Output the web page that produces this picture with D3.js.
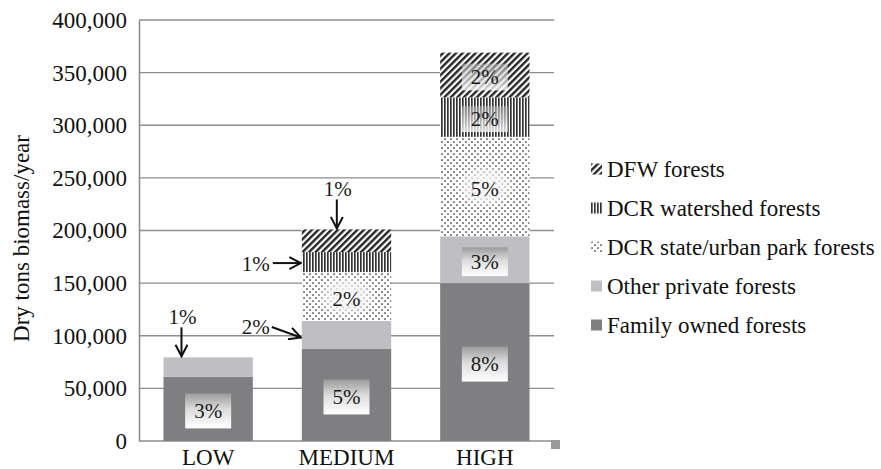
<!DOCTYPE html>
<html>

<head>
    <meta charset="utf-8">
    <style>
        body {
            margin: 0;
            background: #fff;
        }

        svg {
            display: block;
        }

        svg text {
            font-family: "Liberation Serif", serif !important;
        }

        .grid line {
            stroke: #8e8e90;
            stroke-width: 1.4;
        }

        .y .domain {
            stroke: #8e8e90;
            stroke-width: 1.6;
        }

        .y .tick text,
        .x .tick text {
            font-size: 23px;
            fill: #111;
        }

        .legend text {
            font-size: 23px;
            fill: #111;
        }

        .pct {
            font-size: 21px;
            fill: #1a1a1a;
        }

        .axis-title {
            font-size: 23px;
            fill: #111;
        }
    </style>
    <title>Dry tons biomass per year by ownership</title>
</head>

<body>
    <svg width="881" height="469" font-family="Liberation Serif, serif"></svg>

    <script src="https://cdn.jsdelivr.net/npm/d3@7"></script>
    <script>
        // categories and series
        let categories = ["LOW", "MEDIUM", "HIGH"]
        let seriesKeys = ["family", "other", "state", "watershed", "dfw"]
        let seriesNames = [
            "Family owned forests",
            "Other private forests",
            "DCR state/urban park forests",
            "DCR watershed forests",
            "DFW forests"]

        // values (dry tons/year)
        let familyValues = [61000, 87500, 150000]
        let otherValues = [18500, 26500, 44500]
        let stateValues = [0, 46500, 94500]
        let watershedValues = [0, 19000, 37500]
        let dfwValues = [0, 21500, 42500]

        // percent labels
        let familyPct = ["3%", "5%", "8%"]
        let otherPct = ["1%", "2%", "3%"]
        let statePct = ["", "2%", "5%"]
        let watershedPct = ["", "1%", "2%"]
        let dfwPct = ["", "1%", "2%"]

        let yTicks = [0, 50000, 100000, 150000, 200000, 250000, 300000, 350000, 400000]

        let rows = categories.map((c, i) => ({
            cat: c,
            family: familyValues[i],
            other: otherValues[i],
            state: stateValues[i],
            watershed: watershedValues[i],
            dfw: dfwValues[i]
        }))
        let pctLabels = [familyPct, otherPct, statePct, watershedPct, dfwPct]

        // small labels that sit outside the bar with an arrow
        let callouts = [
            { cat: "LOW", key: "other", kind: "down", dx: 18 },
            { cat: "MEDIUM", key: "other", kind: "diag" },
            { cat: "MEDIUM", key: "watershed", kind: "right" },
            { cat: "MEDIUM", key: "dfw", kind: "down", dx: 35 }
        ]

        let plot = { left: 139, right: 554, top: 20, bottom: 441 }

        let svg = d3.select("svg")
        let defs = svg.append("defs")

        // fills
        let dfwPat = defs.append("pattern")
            .attr("id", "pat-dfw")
            .attr("patternUnits", "userSpaceOnUse")
            .attr("width", 4.6).attr("height", 4.6)
            .attr("patternTransform", "rotate(45)")
        dfwPat.append("rect").attr("width", 4.6).attr("height", 4.6).attr("fill", "#fff")
        dfwPat.append("rect").attr("width", 2.4).attr("height", 4.6).attr("fill", "#262626")

        let wsPat = defs.append("pattern")
            .attr("id", "pat-ws")
            .attr("patternUnits", "userSpaceOnUse")
            .attr("width", 3).attr("height", 3)
        wsPat.append("rect").attr("width", 3).attr("height", 3).attr("fill", "#fff")
        wsPat.append("rect").attr("width", 1.7).attr("height", 3).attr("fill", "#333")

        let dotPat = defs.append("pattern")
            .attr("id", "pat-dot")
            .attr("patternUnits", "userSpaceOnUse")
            .attr("width", 6).attr("height", 6)
        dotPat.append("rect").attr("width", 6).attr("height", 6).attr("fill", "#fff")
        dotPat.append("circle").attr("cx", 1).attr("cy", 1).attr("r", 0.85).attr("fill", "#222")
        dotPat.append("circle").attr("cx", 4).attr("cy", 4).attr("r", 0.85).attr("fill", "#222")

        let boxGrad = defs.append("linearGradient")
            .attr("id", "box-grad")
            .attr("x1", 0).attr("y1", 0).attr("x2", 0).attr("y2", 1)
        boxGrad.append("stop").attr("offset", 0).attr("stop-color", "#9a9a9a")
        boxGrad.append("stop").attr("offset", 0.45).attr("stop-color", "#dcdcdc")
        boxGrad.append("stop").attr("offset", 1).attr("stop-color", "#ffffff")

        let fadeGrad = defs.append("linearGradient")
            .attr("id", "box-fade")
            .attr("x1", 0).attr("y1", 0).attr("x2", 0).attr("y2", 1)
        fadeGrad.append("stop").attr("offset", 0).attr("stop-color", "#bdbdbd").attr("stop-opacity", 0.55)
        fadeGrad.append("stop").attr("offset", 1).attr("stop-color", "#ffffff").attr("stop-opacity", 0.8)

        let glow = defs.append("radialGradient").attr("id", "glow")
        glow.append("stop").attr("offset", 0).attr("stop-color", "#fff").attr("stop-opacity", 0.95)
        glow.append("stop").attr("offset", 0.6).attr("stop-color", "#f2f2f2").attr("stop-opacity", 0.7)
        glow.append("stop").attr("offset", 1).attr("stop-color", "#fff").attr("stop-opacity", 0)

        defs.append("marker")
            .attr("id", "arrow")
            .attr("viewBox", "0 0 14 14")
            .attr("refX", 12.5).attr("refY", 7)
            .attr("markerWidth", 14).attr("markerHeight", 14)
            .attr("markerUnits", "userSpaceOnUse")
            .attr("orient", "auto")
            .append("path")
            .attr("d", "M1,1 L12.5,7 L1,13")
            .attr("fill", "none")
            .attr("stroke", "#111")
            .attr("stroke-width", 2)

        let fills = {
            family: "#7f7f82",
            other: "#bfbfc3",
            state: "url(#pat-dot)",
            watershed: "url(#pat-ws)",
            dfw: "url(#pat-dfw)"
        }

        let x = d3.scaleBand()
            .domain(categories)
            .range([plot.left, plot.right])
            .paddingInner(0.354)
            .paddingOuter(0.177)

        let y = d3.scaleLinear()
            .domain([0, 400000])
            .range([plot.bottom, plot.top])

        // gridlines
        svg.append("g")
            .attr("class", "grid")
            .selectAll("line")
            .data(yTicks)
            .join("line")
            .attr("x1", plot.left)
            .attr("x2", plot.right)
            .attr("y1", d => y(d))
            .attr("y2", d => y(d))

        let series = d3.stack().keys(seriesKeys)(rows)

        svg.append("g")
            .selectAll("g")
            .data(series)
            .join("g")
            .attr("fill", d => fills[d.key])
            .selectAll("rect")
            .data(d => d.filter(v => v[1] > v[0]))
            .join("rect")
            .attr("x", d => x(d.data.cat))
            .attr("y", d => y(d[1]))
            .attr("width", x.bandwidth())
            .attr("height", d => y(d[0]) - y(d[1]))

        // y axis
        svg.append("g")
            .attr("class", "y axis")
            .attr("transform", `translate(${plot.left},0)`)
            .call(d3.axisLeft(y)
                .tickValues(yTicks)
                .tickSize(0)
                .tickPadding(12)
                .tickFormat(d3.format(",")))
            .attr("font-family", null)

        svg.append("g")
            .attr("class", "x axis")
            .attr("transform", `translate(0,${plot.bottom})`)
            .call(d3.axisBottom(x).tickSize(0).tickPadding(8))
            .call(g => g.select(".domain").remove())
            .attr("font-family", null)

        svg.append("text")
            .attr("class", "axis-title")
            .attr("transform", `translate(29,${(plot.top + plot.bottom) / 2 + 8}) rotate(-90)`)
            .attr("text-anchor", "middle")
            .text("Dry tons biomass/year")

        // percent labels
        let labels = svg.append("g")
        series.forEach((s, si) => {
            s.forEach((d, ci) => {
                let pct = pctLabels[si][ci]
                if (!pct) return
                let key = s.key
                let cat = d.data.cat
                let top = y(d[1])
                let bot = y(d[0])
                let left = x(cat)
                let cx = left + x.bandwidth() / 2
                let c = callouts.find(o => o.cat == cat && o.key == key)

                if (c && c.kind == "down") {
                    let ax = left + c.dx
                    labels.append("text").attr("class", "pct")
                        .attr("x", ax + 1).attr("y", top - 40)
                        .attr("text-anchor", "middle").attr("dominant-baseline", "central")
                        .text(pct)
                    labels.append("line")
                        .attr("x1", ax).attr("x2", ax)
                        .attr("y1", top - 30).attr("y2", top - 1)
                        .attr("stroke", "#111").attr("stroke-width", 2)
                        .attr("marker-end", "url(#arrow)")
                } else if (c && c.kind == "right") {
                    let my = (top + bot) / 2
                    labels.append("text").attr("class", "pct")
                        .attr("x", left - 32).attr("y", my + 2)
                        .attr("text-anchor", "end").attr("dominant-baseline", "central")
                        .text(pct)
                    labels.append("line")
                        .attr("x1", left - 29).attr("x2", left - 1)
                        .attr("y1", my + 1).attr("y2", my + 1)
                        .attr("stroke", "#111").attr("stroke-width", 2)
                        .attr("marker-end", "url(#arrow)")
                } else if (c && c.kind == "diag") {
                    let my = (top + bot) / 2
                    labels.append("text").attr("class", "pct")
                        .attr("x", left - 32).attr("y", my - 8)
                        .attr("text-anchor", "end").attr("dominant-baseline", "central")
                        .text(pct)
                    labels.append("line")
                        .attr("x1", left - 30).attr("x2", left - 1)
                        .attr("y1", my - 8).attr("y2", my + 2.5)
                        .attr("stroke", "#111").attr("stroke-width", 2)
                        .attr("marker-end", "url(#arrow)")
                } else {
                    let h = bot - top
                    let bh = Math.min(35, Math.max(26, h - 18))
                    let by = (top + bot) / 2 + 2
                    if (key == "state") {
                        labels.append("ellipse")
                            .attr("cx", cx).attr("cy", by - 2)
                            .attr("rx", 30).attr("ry", 22)
                            .attr("fill", "url(#glow)")
                    } else {
                        labels.append("rect")
                            .attr("x", cx - 23).attr("y", by - bh / 2)
                            .attr("width", 46).attr("height", bh)
                            .attr("fill", key == "family" || key == "other" ? "url(#box-grad)" : "url(#box-fade)")
                    }
                    labels.append("text").attr("class", "pct")
                        .attr("x", cx).attr("y", by)
                        .attr("text-anchor", "middle").attr("dominant-baseline", "central")
                        .text(pct)
                }
            })
        })

        // legend, top entry is the top of the stack
        let legend = svg.append("g")
            .attr("class", "legend")
            .attr("transform", "translate(591,169)")

        let items = legend.selectAll("g")
            .data(seriesKeys.slice().reverse())
            .join("g")
            .attr("transform", (d, i) => `translate(0,${i * 39})`)

        items.append("rect")
            .attr("y", -5.5)
            .attr("width", 11)
            .attr("height", 11)
            .attr("fill", d => fills[d])

        items.append("text")
            .attr("x", 16)
            .attr("dominant-baseline", "central")
            .text(d => seriesNames[seriesKeys.indexOf(d)])

        // little handle at the right end of the baseline
        svg.append("rect")
            .attr("x", plot.right - 3)
            .attr("y", plot.bottom - 1)
            .attr("width", 9)
            .attr("height", 9)
            .attr("fill", "#9a9a9c")
    </script>
</body>

</html>
